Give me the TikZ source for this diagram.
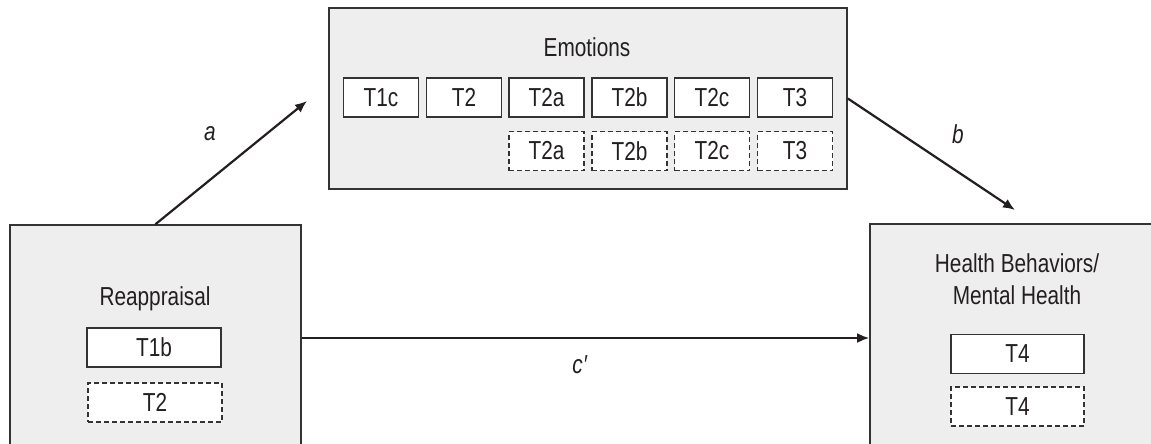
\documentclass[tikz,border=0pt]{standalone}
\usepackage{fontspec}
\setmainfont{Liberation Sans}[FakeStretch=0.8]
\usetikzlibrary{arrows.meta}
\definecolor{panelgray}{HTML}{EEEEEE}
\definecolor{rulegray}{HTML}{333333}
\definecolor{ink}{HTML}{231F20}
\newcommand{\lblfont}{\fontsize{26}{32}\selectfont}
\tikzset{
  panel/.style={draw=rulegray, line width=1.6pt, fill=panelgray, inner sep=0pt},
  wave/.style={draw=rulegray, line width=1.6pt, fill=white, minimum width=75pt, minimum height=39pt, inner sep=0pt},
  wavedash/.style={wave, line width=1.4pt, dash pattern=on 5pt off 3pt},
  arr/.style={draw=ink, line width=2.2pt, -{Latex[length=12pt,width=10pt]}}
}
\begin{document}
\begin{tikzpicture}[x=1pt,y=-1pt,font=\lblfont,text=ink]
  \useasboundingbox (0,0) rectangle (1151,444);
  \clip (0,0) rectangle (1151,444);

  % mediator
  \node[panel, minimum width=518pt, minimum height=181pt] (emo) at (588,98.5) {};
  \node (emolbl) at (587,47) {Emotions};
  \node[wave] (t1c) at (381,97.5) {T1c};
  \node[wave] (t2) at (464,97.5) {T2};
  \node[wave] (t2a) at (546.5,97.5) {T2a};
  \node[wave] (t2b) at (629.5,97.5) {T2b};
  \node[wave] (t2c) at (712,97.5) {T2c};
  \node[wave] (t3) at (795,97.5) {T3};
  \node[wavedash] (t2ad) at (546.5,151) {T2a};
  \node[wavedash] (t2bd) at (629.5,151) {T2b};
  \node[wavedash] (t2cd) at (712,151) {T2c};
  \node[wavedash] (t3d) at (795,151) {T3};

  % predictor
  \node[panel, minimum width=291pt, minimum height=226pt] (reap) at (155.5,338) {};
  \node[anchor=base] (reaplbl) at (155,305) {Reappraisal};
  \node[wave, minimum width=134pt] (t1b) at (154,347.5) {T1b};
  \node[wavedash, minimum width=134pt] (t2r) at (155,402.5) {T2};

  % outcome
  \node[panel, minimum width=294pt, minimum height=228pt] (health) at (1017,338) {};
  \node[align=center] (healthlbl) at (1017,279) {Health Behaviors/\\Mental Health};
  \node[wave, minimum width=133pt] (t4) at (1017.5,354) {T4};
  \node[wavedash, minimum width=133pt] (t4d) at (1017.5,406.5) {T4};

  % paths
  \coordinate (aend) at (307,101);
  \coordinate (bend) at (1015,210);
  \draw[arr] (reap.north) -- (aend);
  \draw[arr] (emo.east) -- (bend);
  \draw[arr] (reap.east) -- (health.west);
  \node (alabel) at (210,134) {\textit{a}};
  \node (blabel) at (958,134) {\textit{b}};
  \node (clabel) at (580,365) {\textit{c\kern0.5pt\char"2032}};
\end{tikzpicture}
\end{document}
